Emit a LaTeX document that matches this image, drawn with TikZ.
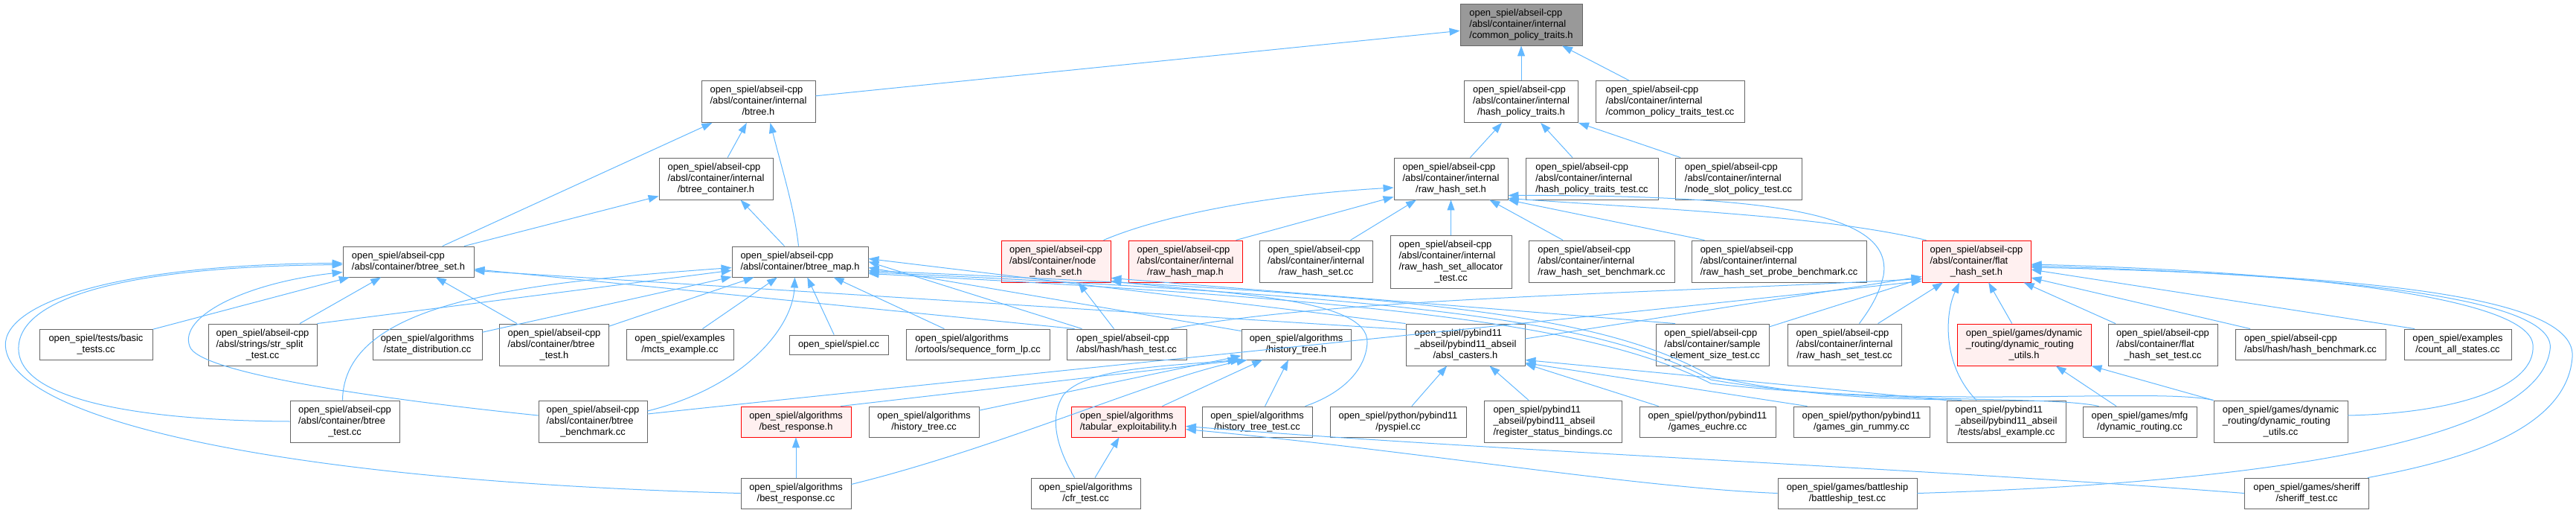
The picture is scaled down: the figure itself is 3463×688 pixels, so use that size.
\documentclass[tikz,border=0pt]{standalone}
\usepackage{fontspec}
\setmainfont{Liberation Sans}
\usetikzlibrary{arrows.meta}

\definecolor{edgeblue}{HTML}{63B8FF}
\definecolor{boxline}{HTML}{666666}
\definecolor{rootfill}{HTML}{999999}
\definecolor{truncfill}{HTML}{FFF0F0}

% file labels: upper lines flush left, last line centred
\newcommand{\ltwo}[2]{\begin{tabular}{@{}l@{}}#1\\\multicolumn{1}{@{}c@{}}{#2}\end{tabular}}
\newcommand{\lthree}[3]{\begin{tabular}{@{}l@{}}#1\\#2\\\multicolumn{1}{@{}c@{}}{#3}\end{tabular}}
\newcommand{\lfour}[4]{\begin{tabular}{@{}l@{}}#1\\#2\\#3\\\multicolumn{1}{@{}c@{}}{#4}\end{tabular}}
\newcommand{\acpp}{open\_spiel/abseil-cpp}
\newcommand{\aint}{/absl/container/internal}

\begin{document}
\begin{tikzpicture}[
    x=1pt, y=-1pt,
    file/.style={draw=boxline, fill=white, line width=0.9pt, inner sep=0pt,
      font=\fontsize{12.9}{15}\selectfont},
    rootfile/.style={file, fill=rootfill},
    cut/.style={file, draw=red, fill=truncfill},
    ln1/.style={minimum height=26pt},
    ln2/.style={minimum height=41pt},
    ln3/.style={minimum height=56pt},
    ln4/.style={minimum height=71pt},
    dep/.style={draw=edgeblue, line width=1pt, {Triangle[length=14pt,width=10pt]}-},
  ]
  \useasboundingbox (0,0) rectangle (3463,688);

  % row 0 and 1
  \node[rootfile, ln3, minimum width=164pt] (root) at (2045,33) {\lthree{\acpp}{\aint}{/common\_policy\_traits.h}};
  \node[file, ln3, minimum width=153pt] (btreeh) at (1019.5,136.5) {\lthree{\acpp}{\aint}{/btree.h}};
  \node[file, ln3, minimum width=153pt] (hpt) at (2045,136.5) {\lthree{\acpp}{\aint}{/hash\_policy\_traits.h}};
  \node[file, ln3, minimum width=200pt] (cpttest) at (2245,136.5) {\lthree{\acpp}{\aint}{/common\_policy\_traits\_test.cc}};

  % row 2
  \node[file, ln3, minimum width=153pt] (btreecont) at (962.5,240) {\lthree{\acpp}{\aint}{/btree\_container.h}};
  \node[file, ln3, minimum width=153pt] (rawhs) at (1950.5,240) {\lthree{\acpp}{\aint}{/raw\_hash\_set.h}};
  \node[file, ln3, minimum width=178pt] (hpttest) at (2140,240) {\lthree{\acpp}{\aint}{/hash\_policy\_traits\_test.cc}};
  \node[file, ln3, minimum width=170pt] (nodeslot) at (2337,240) {\lthree{\acpp}{\aint}{/node\_slot\_policy\_test.cc}};

  % row 3
  \node[file, ln2, minimum width=176pt] (btreeset) at (549,351.5) {\ltwo{\acpp}{/absl/container/btree\_set.h}};
  \node[file, ln2, minimum width=183pt] (btreemap) at (1075.5,351.5) {\ltwo{\acpp}{/absl/container/btree\_map.h}};
  \node[cut, ln3, minimum width=147pt] (nodehs) at (1419.5,351) {\lthree{\acpp}{/absl/container/node}{\_hash\_set.h}};
  \node[cut, ln3, minimum width=153pt] (rawhm) at (1593.5,351) {\lthree{\acpp}{\aint}{/raw\_hash\_map.h}};
  \node[file, ln3, minimum width=152pt] (rawhscc) at (1769,351) {\lthree{\acpp}{\aint}{/raw\_hash\_set.cc}};
  \node[file, ln4, minimum width=163pt] (alloctest) at (1950.5,351.5) {\lfour{\acpp}{\aint}{/raw\_hash\_set\_allocator}{\_test.cc}};
  \node[file, ln3, minimum width=196pt] (rawbench) at (2153,351) {\lthree{\acpp}{\aint}{/raw\_hash\_set\_benchmark.cc}};
  \node[file, ln3, minimum width=235pt] (probebench) at (2391.5,351) {\lthree{\acpp}{\aint}{/raw\_hash\_set\_probe\_benchmark.cc}};
  \node[cut, ln3, minimum width=146pt] (flaths) at (2657,351) {\lthree{\acpp}{/absl/container/flat}{\_hash\_set.h}};

  % row 4
  \node[file, ln2, minimum width=152pt] (basic) at (129,462.5) {\ltwo{open\_spiel/tests/basic}{\_tests.cc}};
  \node[file, ln3, minimum width=146pt] (strsplit) at (353,463) {\lthree{\acpp}{/absl/strings/str\_split}{\_test.cc}};
  \node[file, ln2, minimum width=147pt] (statedist) at (574.5,462.5) {\ltwo{open\_spiel/algorithms}{/state\_distribution.cc}};
  \node[file, ln3, minimum width=147pt] (btreetesth) at (745,463) {\lthree{\acpp}{/absl/container/btree}{\_test.h}};
  \node[file, ln2, minimum width=144pt] (mcts) at (914,462.5) {\ltwo{open\_spiel/examples}{/mcts\_example.cc}};
  \node[file, ln1, minimum width=133pt] (spiel) at (1127.5,463) {open\_spiel/spiel.cc};
  \node[file, ln2, minimum width=193pt] (seqlp) at (1314.5,462.5) {\ltwo{open\_spiel/algorithms}{/ortools/sequence\_form\_lp.cc}};
  \node[file, ln2, minimum width=161pt] (hashtest) at (1514.5,462.5) {\ltwo{\acpp}{/absl/hash/hash\_test.cc}};
  \node[file, ln2, minimum width=147pt] (histh) at (1742.5,462.5) {\ltwo{open\_spiel/algorithms}{/history\_tree.h}};
  \node[file, ln3, minimum width=160pt] (casters) at (1970,463) {\lthree{open\_spiel/pybind11}{\_abseil/pybind11\_abseil}{/absl\_casters.h}};
  \node[file, ln3, minimum width=152pt] (sampletest) at (2302,463) {\lthree{\acpp}{/absl/container/sample}{\_element\_size\_test.cc}};
  \node[file, ln3, minimum width=153pt] (rawhstest) at (2479.5,463) {\lthree{\acpp}{\aint}{/raw\_hash\_set\_test.cc}};
  \node[cut, ln3, minimum width=180pt] (drutilsh) at (2721,463) {\lthree{open\_spiel/games/dynamic}{\_routing/dynamic\_routing}{\_utils.h}};
  \node[file, ln3, minimum width=147pt] (flattest) at (2907.5,463) {\lthree{\acpp}{/absl/container/flat}{\_hash\_set\_test.cc}};
  \node[file, ln2, minimum width=202pt] (hashbench) at (3106,462.5) {\ltwo{\acpp}{/absl/hash/hash\_benchmark.cc}};
  \node[file, ln2, minimum width=144pt] (countall) at (3304,462.5) {\ltwo{open\_spiel/examples}{/count\_all\_states.cc}};

  % row 5
  \node[file, ln3, minimum width=147pt] (btreetestcc) at (463.5,566) {\lthree{\acpp}{/absl/container/btree}{\_test.cc}};
  \node[file, ln3, minimum width=146pt] (btreebench) at (797,566) {\lthree{\acpp}{/absl/container/btree}{\_benchmark.cc}};
  \node[cut, ln2, minimum width=148pt] (bestresph) at (1070,566.5) {\ltwo{open\_spiel/algorithms}{/best\_response.h}};
  \node[file, ln2, minimum width=148pt] (histcc) at (1242,566.5) {\ltwo{open\_spiel/algorithms}{/history\_tree.cc}};
  \node[cut, ln2, minimum width=153pt] (tabexp) at (1517,566.5) {\ltwo{open\_spiel/algorithms}{/tabular\_exploitability.h}};
  \node[file, ln2, minimum width=148pt] (histtest) at (1690,566.5) {\ltwo{open\_spiel/algorithms}{/history\_tree\_test.cc}};
  \node[file, ln2, minimum width=183pt] (pyspiel) at (1879.5,566.5) {\ltwo{open\_spiel/python/pybind11}{/pyspiel.cc}};
  \node[file, ln3, minimum width=185pt] (regstatus) at (2087.5,566) {\lthree{open\_spiel/pybind11}{\_abseil/pybind11\_abseil}{/register\_status\_bindings.cc}};
  \node[file, ln2, minimum width=183pt] (euchre) at (2295.5,566.5) {\ltwo{open\_spiel/python/pybind11}{/games\_euchre.cc}};
  \node[file, ln2, minimum width=183pt] (ginrummy) at (2502.5,566.5) {\ltwo{open\_spiel/python/pybind11}{/games\_gin\_rummy.cc}};
  \node[file, ln3, minimum width=160pt] (abslex) at (2697,566) {\lthree{open\_spiel/pybind11}{\_abseil/pybind11\_abseil}{/tests/absl\_example.cc}};
  \node[file, ln2, minimum width=153pt] (drcc) at (2876.5,566.5) {\ltwo{open\_spiel/games/mfg}{/dynamic\_routing.cc}};
  \node[file, ln3, minimum width=180pt] (drutilscc) at (3066,566) {\lthree{open\_spiel/games/dynamic}{\_routing/dynamic\_routing}{\_utils.cc}};

  % row 6
  \node[file, ln2, minimum width=148pt] (bestrespcc) at (1070,662.5) {\ltwo{open\_spiel/algorithms}{/best\_response.cc}};
  \node[file, ln2, minimum width=147pt] (cfrtest) at (1459.5,662.5) {\ltwo{open\_spiel/algorithms}{/cfr\_test.cc}};
  \node[file, ln2, minimum width=187pt] (battleship) at (2483.5,662.5) {\ltwo{open\_spiel/games/battleship}{/battleship\_test.cc}};
  \node[file, ln2, minimum width=167pt] (sheriff) at (3101,662.5) {\ltwo{open\_spiel/games/sheriff}{/sheriff\_test.cc}};

  % common_policy_traits.h
  \draw[dep] (root) -- (btreeh);
  \draw[dep] (root) -- (hpt);
  \draw[dep] (root) -- (cpttest);

  % btree.h and btree_container.h
  \draw[dep] (btreeh) -- (btreeset);
  \draw[dep] (btreeh) -- (btreecont);
  \draw[dep] ([xshift=16pt]btreeh.south) .. controls (1052,230) and (1068,280) .. ([xshift=-2pt]btreemap.north);
  \draw[dep] ([yshift=5pt]btreecont.south west) -- ([xshift=75pt]btreeset.north);
  \draw[dep] ([xshift=33pt]btreecont.south) -- ([xshift=-21pt]btreemap.north);

  % hash_policy_traits.h
  \draw[dep] (hpt) -- (rawhs);
  \draw[dep] (hpt) -- (hpttest);
  \draw[dep] (hpt.south east) -- ([xshift=-78pt]nodeslot.north);

  % raw_hash_set.h
  \draw[dep] ([yshift=-12pt]rawhs.west) .. controls (1700,262) and (1560,290) .. ([xshift=64pt]nodehs.north);
  \draw[dep] ([yshift=4pt]rawhs.south west) -- ([xshift=68pt]rawhm.north);
  \draw[dep] (rawhs) -- (rawhscc);
  \draw[dep] (rawhs) -- (alloctest);
  \draw[dep] (rawhs) -- (rawbench);
  \draw[dep] (rawhs.south east) -- ([xshift=-100pt]probebench.north);
  \draw[dep] ([yshift=2pt]rawhs.south east) .. controls (2250,282) and (2450,290) .. ([xshift=6pt]flaths.north west);
  \draw[dep] ([yshift=6pt]rawhs.south east) .. controls (2400,262) and (2545,290) .. (2532,370)
    .. controls (2525,400) and (2510,420) .. ([xshift=20pt]rawhstest.north);

  % btree_set.h
  \draw[dep] (btreeset) -- (basic);
  \draw[dep] (btreeset) -- (strsplit);
  \draw[dep] (btreeset) -- (btreetesth);
  \draw[dep] ([yshift=-2pt]btreeset.west) .. controls (150,355) and (-5,410) .. (8,470)
    .. controls (25,560) and (350,645) .. (bestrespcc.west);
  \draw[dep] ([yshift=-4pt]btreeset.west) .. controls (170,358) and (22,400) .. (25,470)
    .. controls (28,540) and (200,565) .. (btreetestcc.west);
  \draw[dep] ([yshift=-14pt]btreeset.west) .. controls (330,380) and (240,425) .. (255,465)
    .. controls (265,500) and (500,535) .. ([yshift=8pt]btreebench.west);
  \draw[dep] ([yshift=-10pt]btreeset.east) -- ([xshift=-70pt]hashtest.north);
  \draw[dep] ([yshift=-12pt]btreeset.east) -- ([yshift=-8pt]casters.north west);

  % btree_map.h
  \draw[dep] (btreemap) -- (strsplit.north east);
  \draw[dep] (btreemap) -- (statedist);
  \draw[dep] (btreemap) -- (btreetesth);
  \draw[dep] (btreemap) -- (mcts);
  \draw[dep] (btreemap) -- (spiel);
  \draw[dep] (btreemap) -- (seqlp);
  \draw[dep] ([yshift=-8pt]btreemap.west) .. controls (700,380) and (462,405) .. ([xshift=-3pt]btreetestcc.north);
  \draw[dep] ([xshift=-7pt]btreemap.south) .. controls (1066,440) and (1000,520) .. ([yshift=14pt]btreebench.east);
  \draw[dep] (btreemap.east) -- ([xshift=-60pt]hashtest.north);
  \draw[dep] ([yshift=-8pt]btreemap.east) -- ([yshift=-3pt]histh.north west);
  \draw[dep] ([yshift=4pt]btreemap.east) -- (casters.north west);
  \draw[dep] ([yshift=-12pt]btreemap.east) .. controls (1900,395) and (2150,420) .. (2300,505)
    .. controls (2450,540) and (2600,535) .. ([xshift=-60pt]abslex.north);
  \draw[dep] ([yshift=-14pt]btreemap.east) .. controls (1900,400) and (2150,430) .. (2300,510)
    .. controls (2500,545) and (2750,530) .. ([xshift=-55pt]drcc.north);
  \draw[dep] ([yshift=-16pt]btreemap.east) .. controls (1900,405) and (2150,440) .. (2300,515)
    .. controls (2600,550) and (2900,520) .. (drutilscc.north west);

  % node_hash_set.h
  \draw[dep] ([xshift=30pt]nodehs.south) -- ([xshift=-17pt]hashtest.north);
  \draw[dep] ([yshift=6pt]nodehs.south east) -- ([xshift=-50pt]sampletest.north);
  \draw[dep] ([yshift=2pt]nodehs.south east) .. controls (1650,395) and (1840,400) .. (1838,460)
    .. controls (1836,500) and (1800,530) .. ([xshift=-10pt]histtest.north east);

  % flat_hash_set.h
  \draw[dep] ([yshift=5pt]flaths.south west) .. controls (2200,395) and (1800,400) .. ([xshift=60pt]hashtest.north);
  \draw[dep] ([yshift=8pt]flaths.south west) -- ([yshift=8pt]casters.east);
  \draw[dep] (flaths) -- (sampletest);
  \draw[dep] ([yshift=2pt]flaths.south west) .. controls (2100,430) and (1300,510) .. ([yshift=10pt]btreebench.east);
  \draw[dep] (flaths) -- (rawhstest);
  \draw[dep] (flaths) -- (drutilsh);
  \draw[dep] ([xshift=-23pt]flaths.south) .. controls (2615,420) and (2610,490) .. ([xshift=-40pt]abslex.north);
  \draw[dep] (flaths) -- (flattest);
  \draw[dep] ([yshift=-22pt]flaths.east) -- ([xshift=-81pt]hashbench.north);
  \draw[dep] ([yshift=-11pt]flaths.east) -- ([xshift=-58pt]countall.north);
  \draw[dep] ([yshift=-4pt]flaths.east) .. controls (3100,365) and (3400,400) .. (3405,463)
    .. controls (3410,520) and (3300,555) .. ([yshift=8pt]drutilscc.east);
  \draw[dep] ([yshift=-6pt]flaths.east) .. controls (3150,370) and (3440,400) .. (3428,470)
    .. controls (3410,600) and (3000,650) .. (battleship.east);
  \draw[dep] ([yshift=-8pt]flaths.east) .. controls (3200,370) and (3465,400) .. (3458,480)
    .. controls (3450,580) and (3300,620) .. ([xshift=-2pt]sheriff.north east);

  % history_tree.h
  \draw[dep] (histh) -- (histcc);
  \draw[dep] (histh.south west) -- ([xshift=60pt]bestresph.north);
  \draw[dep] ([xshift=8pt]histh.south west) .. controls (1560,505) and (1350,600) .. ([yshift=12pt]bestrespcc.east);
  \draw[dep] (histh) -- (tabexp);
  \draw[dep] (histh) -- (histtest);
  \draw[dep] ([xshift=-4pt]histh.south west) .. controls (1560,492) and (1460,495) .. (1430,530)
    .. controls (1410,560) and (1420,600) .. ([xshift=-15pt]cfrtest.north);

  % tabular_exploitability.h and best_response.h
  \draw[dep] (tabexp) -- (cfrtest);
  \draw[dep] ([yshift=-10pt]tabexp.east) .. controls (1900,605) and (2200,655) .. (battleship.west);
  \draw[dep] ([yshift=-6pt]tabexp.east) .. controls (2000,605) and (2600,630) .. (sheriff.west);
  \draw[dep] (bestresph) -- (bestrespcc);

  % absl_casters.h
  \draw[dep] (casters) -- (pyspiel);
  \draw[dep] (casters) -- (regstatus);
  \draw[dep] (casters) -- (euchre);
  \draw[dep] ([yshift=4pt]casters.south east) -- ([xshift=-73pt]ginrummy.north);
  \draw[dep] ([yshift=8pt]casters.south east) -- (abslex.north west);

  % dynamic_routing_utils.h
  \draw[dep] (drutilsh) -- (drcc);
  \draw[dep] (drutilsh.south east) -- (drutilscc.north west);
\end{tikzpicture}
\end{document}
